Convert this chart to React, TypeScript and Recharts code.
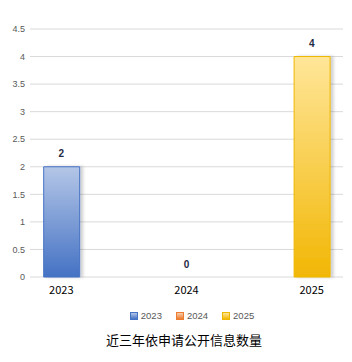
import React from 'react';
import { ComposedChart, Bar, Line, XAxis, YAxis, CartesianGrid, Cell } from 'recharts';

const categories = ['2023', '2024', '2025'];
const values = [2, 0, 4];
const yTicks = [0, 0.5, 1, 1.5, 2, 2.5, 3, 3.5, 4, 4.5];
const title = '近三年依申请公开信息数量';

const seriesColors = [
  { id: 'g2023', top: '#b4c6e7', bottom: '#4472c4', stroke: '#4472c4' },
  { id: 'g2024', top: '#f8cbad', bottom: '#ed7d31', stroke: '#ed7d31' },
  { id: 'g2025', top: '#ffe699', bottom: '#f2b705', stroke: '#efb800' },
];

const data = categories.map((c, i) => ({ idx: i, name: c, value: values[i] }));

const PointLabel = (props: any) => {
  const { x, y, value } = props;
  if (value === null || value === undefined) return null;
  return (
    <text
      x={x}
      y={y - 13}
      textAnchor="middle"
      dominantBaseline="central"
      fontSize={10}
      fontWeight="bold"
      fontFamily="Liberation Sans, Arial, sans-serif"
      fill="#1f2a44"
    >
      {value}
    </text>
  );
};

export default function App() {
  return (
    <div style={{ position: 'absolute', left: 0, top: 0, width: 352, height: 362, background: '#fff' }}>
      <ComposedChart
        width={352}
        height={362}
        data={data}
        margin={{ top: 29, right: 9, bottom: 65, left: 0 }}
      >
        <defs>
          {seriesColors.map((s) => (
            <linearGradient key={s.id} id={s.id} x1="0" y1="0" x2="0" y2="1">
              <stop offset="0%" stopColor={s.top} />
              <stop offset="100%" stopColor={s.bottom} />
            </linearGradient>
          ))}
          <filter id="barShadow" x="-20%" y="-5%" width="150%" height="110%">
            <feDropShadow dx="3" dy="0" stdDeviation="1.8" floodColor="#000" floodOpacity="0.18" />
          </filter>
        </defs>
        <CartesianGrid vertical={false} stroke="#d9d9d9" />
        <XAxis
          dataKey="idx"
          type="number"
          domain={[-0.25, 2.25]}
          ticks={[0, 1, 2]}
          tickFormatter={(v: number) => categories[v]}
          axisLine={false}
          tickLine={false}
          tickSize={0}
          tickMargin={9}
          tick={{ fill: '#000', fontSize: 11, fontFamily: 'Noto Sans CJK SC, sans-serif' }}
          height={20}
          interval={0}
        />
        <YAxis
          domain={[0, 4.5]}
          ticks={yTicks}
          axisLine={false}
          tickLine={false}
          tickSize={0}
          tickMargin={5}
          width={30}
          tick={{ fill: '#595959', fontSize: 9, fontFamily: 'Liberation Sans, Arial, sans-serif' }}
        />
        <Bar dataKey="value" barSize={36} isAnimationActive={false} filter="url(#barShadow)">
          {data.map((d, i) => (
            <Cell key={d.name} fill={`url(#${seriesColors[i].id})`} stroke={seriesColors[i].stroke} strokeWidth={1} />
          ))}
        </Bar>
        <Line
          dataKey="value"
          stroke="none"
          dot={false}
          activeDot={false}
          isAnimationActive={false}
          label={<PointLabel />}
        />
      </ComposedChart>
      <div
        style={{
          position: 'absolute',
          top: 309,
          left: 16,
          width: 352,
          display: 'flex',
          justifyContent: 'center',
          gap: 14,
          fontFamily: 'Liberation Sans, Arial, sans-serif',
          fontSize: 9.5,
          color: '#595959',
          lineHeight: '13px',
        }}
      >
        {categories.map((c, i) => (
          <div key={c} style={{ display: 'flex', alignItems: 'center', gap: 3 }}>
            <span
              style={{
                display: 'inline-block',
                width: 6,
                height: 6,
                border: `1px solid ${seriesColors[i].stroke}`,
                background: `linear-gradient(${seriesColors[i].top}, ${seriesColors[i].bottom})`,
              }}
            />
            <span>{c}</span>
          </div>
        ))}
      </div>
      <div
        style={{
          position: 'absolute',
          top: 331,
          left: 8,
          width: 352,
          textAlign: 'center',
          fontFamily: 'Noto Sans CJK SC, sans-serif',
          fontSize: 13,
          color: '#000',
          lineHeight: '18px',
        }}
      >
        {title}
      </div>
    </div>
  );
}
